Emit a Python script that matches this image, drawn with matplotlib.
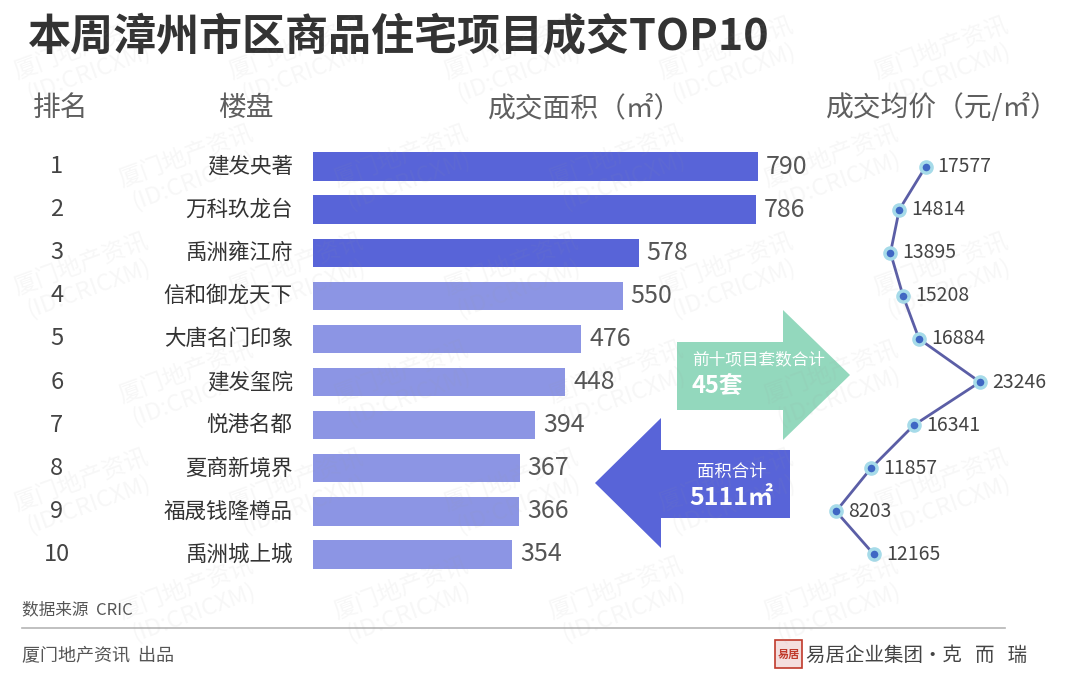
import matplotlib.pyplot as plt
import matplotlib.patches as mpatches
import numpy as np

plt.rcParams['font.family'] = ['Noto Sans CJK SC', 'DejaVu Sans']

# data
ranks = ['1', '2', '3', '4', '5', '6', '7', '8', '9', '10']
projects = ['建发央著', '万科玖龙台', '禹洲雍江府', '信和御龙天下', '大唐名门印象',
            '建发玺院', '悦港名都', '夏商新境界', '福晟钱隆樽品', '禹洲城上城']
areas = [790, 786, 578, 550, 476, 448, 394, 367, 366, 354]
prices = [17577, 14814, 13895, 15208, 16884, 23246, 16341, 11857, 8203, 12165]
total_units = 45
total_area = 5111

W, H = 1080, 675
fig = plt.figure(figsize=(W / 100, H / 100), dpi=100)
fig.patch.set_facecolor('white')


def fx(x):
    return x / W


def fy(y):
    return 1 - y / H


# title and headers
fig.text(fx(28), fy(37), '本周漳州市区商品住宅项目成交TOP10', fontsize=31,
         fontweight='bold', color='#333333', va='center', ha='left')
head_col = '#5f5f5f'
fig.text(fx(33), fy(108), '排名', fontsize=20, color=head_col, va='center')
fig.text(fx(218), fy(108), '楼盘', fontsize=20, color=head_col, va='center')
fig.text(fx(488), fy(108), '成交面积（㎡）', fontsize=20, color=head_col, va='center')
fig.text(fx(826), fy(108), '成交均价（元/㎡）', fontsize=20, color=head_col, va='center')

# bar axes
top, bottom = 145, 576
ax = fig.add_axes([fx(313), fy(bottom), fx(313 + 0.5633 * 960) - fx(313), (bottom - top) / H])
ypos = np.arange(len(areas))
colors = ['#5864d8'] * 3 + ['#8c95e4'] * 7
ax.barh(ypos, areas, height=0.66, color=colors)
for y, v in zip(ypos, areas):
    ax.text(v + 14, y, str(v), va='center', ha='left', fontsize=18, color='#555555')
ax.set_xlim(0, 960)
ax.set_ylim(9.5, -0.5)
ax.axis('off')

# rank numbers and project names
for y, r, p in zip(ypos, ranks, projects):
    ax.text(-455, y, r, va='center', ha='center', fontsize=17, color='#444444')
    ax.text(-36, y, p, va='center', ha='right', fontsize=15.5, color='#333333')

# price line axes
ax2 = fig.add_axes([fx(800), fy(bottom), fx(1060) - fx(800), (bottom - top) / H])
ax2.plot(prices, ypos, color='#5b5ea6', lw=2, zorder=2)
ax2.plot(prices, ypos, 'o', ms=8, mfc='#3f67c4', mec='#a6dbe9', mew=2.5, zorder=3)
for y, v in zip(ypos, prices):
    ax2.text(v + 1250, y, str(v), va='center', ha='left', fontsize=14, color='#444444')
ax2.set_xlim(4441, 31609)
ax2.set_ylim(9.5, -0.5)
ax2.axis('off')

# summary arrows
green = [(677, 342), (783, 342), (783, 310), (850, 375), (783, 440), (783, 410), (677, 410)]
blue = [(790, 450), (661, 450), (661, 418), (595, 483), (661, 548), (661, 518), (790, 518)]
for pts, col in [(green, '#93d8bd'), (blue, '#5864d8')]:
    poly = mpatches.Polygon([(fx(x), fy(y)) for x, y in pts], closed=True,
                            transform=fig.transFigure, facecolor=col, edgecolor='none', zorder=1)
    fig.add_artist(poly)
fig.text(fx(692), fy(360), '前十项目套数合计', fontsize=12, color='white', va='center')
fig.text(fx(692), fy(386), f'{total_units}套', fontsize=17, fontweight='bold', color='white', va='center')
fig.text(fx(732), fy(472), '面积合计', fontsize=12.5, color='white', va='center', ha='center')
fig.text(fx(731), fy(498), f'{total_area}㎡', fontsize=18, fontweight='bold', color='white',
         va='center', ha='center')

# footer
fig.text(fx(22), fy(610), '数据来源  CRIC', fontsize=12, color='#555555', va='center')
fig.add_artist(plt.Line2D([fx(22), fx(1005)], [fy(628), fy(628)], color='#b5b5b5', lw=1.2,
                          transform=fig.transFigure))
fig.text(fx(22), fy(655), '厦门地产资讯  出品', fontsize=13, color='#555555', va='center')
logo = mpatches.Rectangle((fx(775), fy(668)), fx(27), 28 / H, transform=fig.transFigure,
                          facecolor='#f4dede', edgecolor='#c0392b', lw=1.2)
fig.add_artist(logo)
fig.text(fx(788.5), fy(654), '易居', fontsize=8, color='#c0392b', va='center', ha='center',
         fontweight='bold')
fig.text(fx(806), fy(655), '易居企业集团·克   而   瑞', fontsize=14, color='#444444', va='center')

# faint watermark
for row in range(6):
    for col in range(5):
        x = col * 215 + (row % 2) * 105 + 85
        y = row * 108 + 60
        if x > 1000:
            continue
        fig.text(fx(x), fy(y), '厦门地产资讯\n(ID:CRICXM)', fontsize=17, color='#9a9a9a',
                 alpha=0.08, rotation=20, ha='center', va='center', zorder=10,
                 linespacing=1.1)

fig.savefig('out.png', dpi=100, facecolor='white')
